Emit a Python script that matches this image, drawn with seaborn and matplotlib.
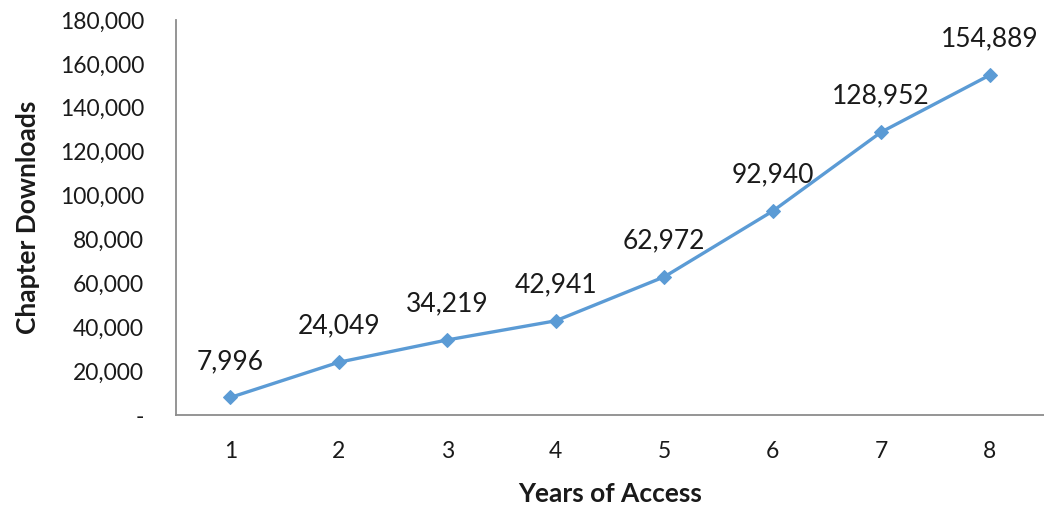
import numpy as np
import pandas as pd
import matplotlib
matplotlib.use("Agg")
import matplotlib.pyplot as plt
from matplotlib.ticker import FuncFormatter
import seaborn as sns

years = [1, 2, 3, 4, 5, 6, 7, 8]
downloads = [7996, 24049, 34219, 42941, 62972, 92940, 128952, 154889]
y_ticks = [0, 20000, 40000, 60000, 80000, 100000, 120000, 140000, 160000, 180000]

sns.set_style("white")
plt.rcParams['font.family'] = ['Lato', 'DejaVu Sans']

df = pd.DataFrame({"Years of Access": years, "Chapter Downloads": downloads})

fig = plt.figure(figsize=(10.44, 5.08), dpi=100)
ax = fig.add_axes([0.1686, 0.183, 0.8314, 0.7776])

sns.lineplot(data=df, x="Years of Access", y="Chapter Downloads", ax=ax,
             color="#5B9BD5", linewidth=2.4, marker="D", markersize=7,
             markeredgecolor="#5B9BD5")

for x, y in zip(years, downloads):
    ax.annotate(f"{y:,}", (x, y), xytext=(0, 26), textcoords="offset points",
                ha="center", va="center", fontsize=19, color="#1a1a1a")

ax.set_xlim(0.5, 8.5)
ax.set_ylim(0, 180000)
ax.set_xticks(years)
ax.set_yticks(y_ticks)
ax.yaxis.set_major_formatter(FuncFormatter(lambda v, p: "-" if v == 0 else f"{int(v):,}"))
ax.tick_params(axis="both", length=0, labelsize=16.5, colors="#1a1a1a")
ax.tick_params(axis="y", pad=23)
ax.tick_params(axis="x", pad=19)

for s in ["top", "right"]:
    ax.spines[s].set_visible(False)
for s in ["left", "bottom"]:
    ax.spines[s].set_color("#8c8c8c")
    ax.spines[s].set_linewidth(1.3)

ax.set_xlabel("Years of Access", fontsize=19, fontweight="bold", color="#1a1a1a", labelpad=14)
ax.set_ylabel("Chapter Downloads", fontsize=19, fontweight="bold", color="#1a1a1a", labelpad=14)

fig.savefig("out.png", dpi=100)
